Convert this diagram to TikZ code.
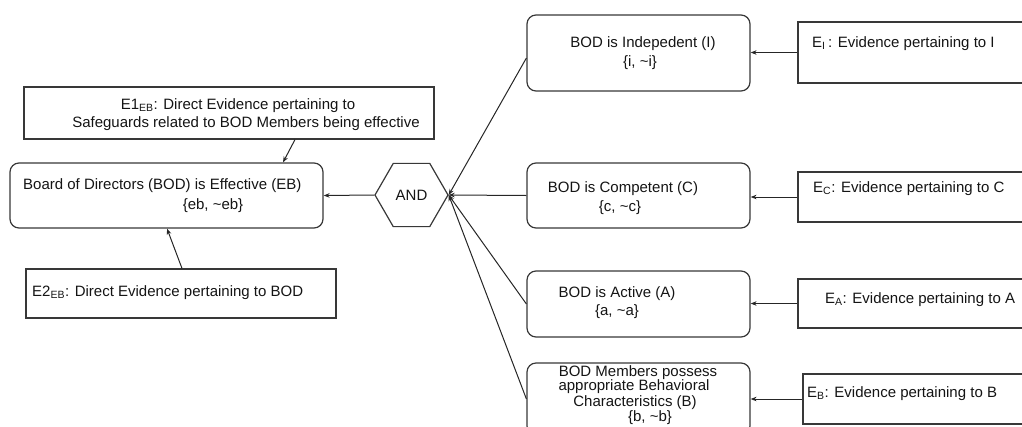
\documentclass[tikz,border=0pt]{standalone}
\usepackage{fontspec}
\setmainfont{Liberation Sans}
\usetikzlibrary{arrows.meta,shapes.geometric}
\begin{document}
\begin{tikzpicture}[x=1pt,y=-1pt,
  txt/.style={inner sep=0pt, font=\fontsize{15}{18}\selectfont, text=black!92},
  rbox/.style={draw=black!78, line width=1.2pt, rounded corners=9pt, inner sep=0pt},
  ebox/.style={draw=black!78, line width=1.2pt, inner sep=0pt},
  gate/.style={draw=black!78, line width=1.2pt, regular polygon, regular polygon sides=6,
               inner sep=0pt, minimum size=73pt, font=\fontsize{15}{18}\selectfont, text=black!92},
  link/.style={draw=black!85, line width=1pt, -{Stealth[length=6pt,width=4.5pt]}},
  ]
\useasboundingbox (0,0) rectangle (1022,426);
\clip (0,0) rectangle (1022,426);

% left part: goal node and its direct evidence
\node[rbox, minimum width=313pt, minimum height=65pt] (EB) at (166.5,195.5) {};
\node[ebox, minimum width=410pt, minimum height=52pt] (E1) at (229,113) {};
\node[ebox, minimum width=310pt, minimum height=49pt] (E2) at (181,293.5) {};
\node[gate] (AND) at (411.5,195) {AND};

\node[txt, anchor=mid west] (EBt1) at (23,186.5) {Board of Directors (BOD) is Effective (EB)};
\node[txt, anchor=mid] (EBt2) at (213,206.5) {\{eb, \textasciitilde eb\}};
\node[txt, anchor=mid] (E1t1) at (238,106.5) {E1\textsubscript{EB}: Direct Evidence pertaining to};
\node[txt, anchor=mid] (E1t2) at (246,124.5) {Safeguards related to BOD Members being effective};
\node[txt, anchor=mid west] (E2t) at (32,293.5) {E2\textsubscript{EB}: Direct Evidence pertaining to BOD};

% right part: sub-goals
\node[rbox, minimum width=223pt, minimum height=76pt] (I) at (638.5,53) {};
\node[rbox, minimum width=223pt, minimum height=65pt] (C) at (638.5,195.5) {};
\node[rbox, minimum width=223pt, minimum height=66pt] (A) at (638.5,304) {};
\node[rbox, minimum width=223pt, minimum height=72pt] (B) at (638.5,399) {};

\node[txt, anchor=mid] (It1) at (643,44.5) {BOD is Indepedent (I)};
\node[txt, anchor=mid] (It2) at (640,63.5) {\{i, \textasciitilde i\}};
\node[txt, anchor=mid] (Ct1) at (623,189.5) {BOD is Competent (C)};
\node[txt, anchor=mid] (Ct2) at (620,208.5) {\{c, \textasciitilde c\}};
\node[txt, anchor=mid] (At1) at (617,294.5) {BOD is Active (A)};
\node[txt, anchor=mid] (At2) at (617,312.5) {\{a, \textasciitilde a\}};
\node[txt, anchor=mid] (Bt1) at (638,373.5) {BOD Members possess};
\node[txt, anchor=mid] (Bt2) at (634,387.5) {appropriate Behavioral};
\node[txt, anchor=mid] (Bt3) at (635,403.5) {Characteristics (B)};
\node[txt, anchor=mid] (Bt4) at (650,418.5) {\{b, \textasciitilde b\}};

% evidence for the sub-goals
\node[ebox, minimum width=237pt, minimum height=61pt] (EI) at (916.5,52.5) {};
\node[ebox, minimum width=237pt, minimum height=50pt] (EC) at (916.5,197) {};
\node[ebox, minimum width=237pt, minimum height=49pt] (EA) at (916.5,303.5) {};
\node[ebox, minimum width=232pt, minimum height=50pt] (EBh) at (919,399) {};

\node[txt, anchor=mid west] (EIt) at (812,44.5) {E\textsubscript{I}\,: Evidence pertaining to I};
\node[txt, anchor=mid west] (ECt) at (813,189.5) {E\textsubscript{C}: Evidence pertaining to C};
\node[txt, anchor=mid west] (EAt) at (825,300.5) {E\textsubscript{A}: Evidence pertaining to A};
\node[txt, anchor=mid west] (EBht) at (807,394.5) {E\textsubscript{B}: Evidence pertaining to B};

% connectors
\draw[link] ([xshift=66pt]E1.south) -- ([xshift=116.5pt]EB.north);
\draw[link] ([xshift=1pt]E2.north) -- ([xshift=0.5pt]EB.south);
\draw[link] (AND.west) -- (EB.east);
\draw[link] ([yshift=-5pt]I.west) -- (AND.east);
\draw[link] (C.west) -- (AND.east);
\draw[link] (A.west) -- (AND.east);
\draw[link] (B.west) -- (AND.east);
\draw[link] (EI.west) -- (EI.west -| I.east);
\draw[link] (EC.west) -- (EC.west -| C.east);
\draw[link] (EA.west) -- (EA.west -| A.east);
\draw[link] (EBh.west) -- (EBh.west -| B.east);
\end{tikzpicture}
\end{document}
